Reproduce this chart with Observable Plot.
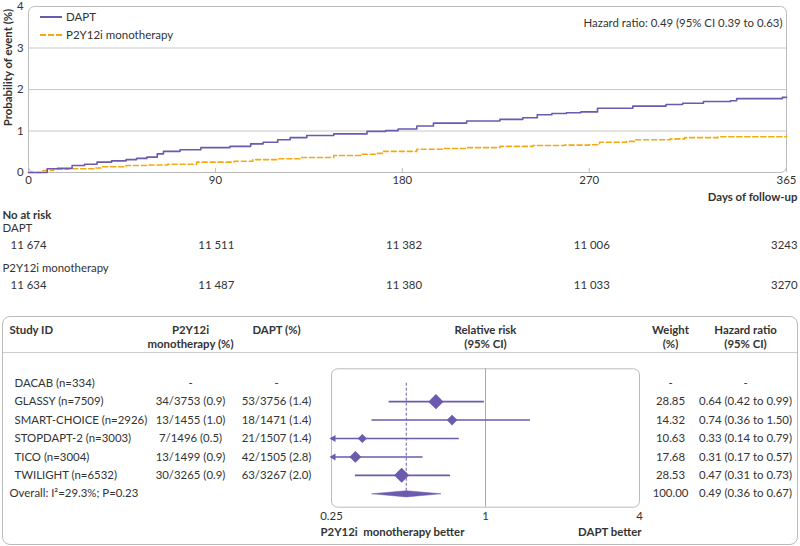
<!DOCTYPE html>
<html><head><meta charset="utf-8">
<script src="https://cdn.jsdelivr.net/npm/d3@7"></script>
<script src="https://cdn.jsdelivr.net/npm/@observablehq/plot@0.6"></script>
<style>
body{margin:0;background:#fff;font-family:Lato,"Noto Sans",sans-serif;color:#333}
#root{position:relative;width:800px;height:546px;overflow:hidden;background:#fff}
.abs{position:absolute;left:0}
#km{top:0}
#risk{top:205px}
#forest{top:317px}
#forestBox{position:absolute;left:2px;top:316px;width:796px;height:229px;border:1px solid #bbb;border-radius:8px;box-sizing:border-box}
#hdrLine{position:absolute;left:3px;top:352px;width:794px;border-top:1px solid #ccc}
#legend{position:absolute;left:40px;top:8px;font-size:11.5px;line-height:18px}
#legend .row{display:flex;align-items:center;height:18px}
#legend .sw{width:22px;height:0;margin-right:4px}
</style></head>
<body><div id="root">
<div id="forestBox"></div><div id="hdrLine"></div>
<div id="km" class="abs"></div>
<div id="legend"></div>
<div id="risk" class="abs"></div>
<div id="forest" class="abs"></div>
</div>
<script>
// ---------- data ----------
const seriesNames = ["DAPT", "P2Y12i monotherapy"];
const xTicks = [0, 90, 180, 270, 365];
const yTicks = [0, 1, 2, 3, 4];
const daptDays = [0, 9, 14, 21, 27, 33, 40, 47, 52, 57, 62, 65, 73, 83, 97, 107, 113, 120, 126, 134, 147, 163, 172, 178, 187, 195, 211, 227, 238, 245, 252, 259, 266, 274, 291, 307, 315, 325, 338, 341, 363, 365];
const daptPct  = [0, 0.09, 0.10, 0.17, 0.20, 0.25, 0.28, 0.31, 0.34, 0.37, 0.45, 0.51, 0.55, 0.60, 0.63, 0.69, 0.73, 0.79, 0.84, 0.89, 0.93, 0.99, 1.01, 1.05, 1.12, 1.19, 1.24, 1.28, 1.32, 1.39, 1.42, 1.44, 1.46, 1.55, 1.60, 1.64, 1.67, 1.71, 1.73, 1.78, 1.81, 1.81];
const monoDays = [0, 7, 12, 19, 32, 35, 47, 57, 67, 81, 99, 108, 120, 131, 147, 160, 168, 171, 187, 200, 211, 227, 243, 258, 270, 275, 288, 292, 309, 316, 332, 365];
const monoPct  = [0, 0.05, 0.08, 0.09, 0.11, 0.14, 0.17, 0.18, 0.20, 0.25, 0.27, 0.31, 0.33, 0.36, 0.41, 0.44, 0.46, 0.51, 0.56, 0.58, 0.60, 0.63, 0.65, 0.66, 0.67, 0.73, 0.75, 0.79, 0.81, 0.84, 0.86, 0.87];
const hazardText = "Hazard ratio: 0.49 (95% CI 0.39 to 0.63)";
const yLabel = "Probability of event (%)";
const xLabel = "Days of follow-up";

const riskHeader = "No at risk";
const riskDapt = [11674, 11511, 11382, 11006, 3243];
const riskMono = [11634, 11487, 11380, 11033, 3270];

const studies = ["DACAB (n=334)", "GLASSY (n=7509)", "SMART-CHOICE (n=2926)", "STOPDAPT-2 (n=3003)", "TICO (n=3004)", "TWILIGHT (n=6532)"];
const monoEvents = ["-", "34/3753 (0.9)", "13/1455 (1.0)", "7/1496 (0.5)", "13/1499 (0.9)", "30/3265 (0.9)"];
const daptEvents = ["-", "53/3756 (1.4)", "18/1471 (1.4)", "21/1507 (1.4)", "42/1505 (2.8)", "63/3267 (2.0)"];
const weights = [null, 28.85, 14.32, 10.63, 17.68, 28.53];
const hrs = [null, 0.64, 0.74, 0.33, 0.31, 0.47];
const los = [null, 0.42, 0.36, 0.14, 0.17, 0.31];
const his = [null, 0.99, 1.50, 0.79, 0.57, 0.73];
const overallLabel = "Overall: I\u00b2=29.3%; P=0.23";
const overallWeight = 100.00, overallHr = 0.49, overallLo = 0.36, overallHi = 0.67;
const rrTicks = [0.25, 1, 4];
const headers = ["Study ID", "P2Y12i\nmonotherapy (%)", "DAPT (%)", "Relative risk\n(95% CI)", "Weight\n(%)", "Hazard ratio\n(95% CI)"];
const betterLeft = "P2Y12i\u00a0 monotherapy better";
const betterRight = "DAPT better";

// ---------- style ----------
const PURPLE = "#6b5aae";
const ORANGE = "#f6a80c";
const FONT = "Lato, 'Noto Sans', sans-serif";
const TXT = "#333";
const baseStyle = {fontFamily: FONT, fontSize: "11.4px", color: TXT, background: "transparent", overflow: "visible"};

// ---------- KM chart ----------
const dapt = daptDays.map((d, i) => ({day: d, pct: daptPct[i]}));
const mono = monoDays.map((d, i) => ({day: d, pct: monoPct[i]}));
const km = Plot.plot({
  width: 800, height: 205, marginTop: 6, marginBottom: 33, marginLeft: 28, marginRight: 14,
  style: baseStyle,
  x: {domain: [xTicks[0], xTicks[xTicks.length - 1]]},
  y: {domain: [yTicks[0], yTicks[yTicks.length - 1]]},
  marks: [
    Plot.gridY(yTicks.slice(1, -1), {stroke: "#c8c8c8", strokeOpacity: 1}),
    Plot.frame({stroke: "#bbb", rx: 6}),
    Plot.ruleX(xTicks, {y1: 0, y2: 0.1, stroke: "#bbb"}),
    Plot.axisX({ticks: xTicks, tickSize: 0, tickPadding: 3, tickFormat: d => String(d), label: null}),
    Plot.axisY({ticks: yTicks, tickSize: 0, tickPadding: 5, tickFormat: d => String(d), label: null}),
    Plot.line(mono, {x: "day", y: "pct", curve: "step-after", stroke: ORANGE, strokeWidth: 1.6, strokeDasharray: "5,3"}),
    Plot.line(dapt, {x: "day", y: "pct", curve: "step-after", stroke: PURPLE, strokeWidth: 1.6}),
    Plot.text([hazardText], {text: d => d, frameAnchor: "top-right", textAnchor: "end", lineAnchor: "middle", dx: -4, dy: 17}),
    Plot.text([yLabel], {text: d => d, frameAnchor: "left", textAnchor: "middle", lineAnchor: "middle", rotate: -90, dx: -20, dy: -22, fontWeight: "bold"}),
    Plot.text([xLabel], {text: d => d, frameAnchor: "bottom-right", textAnchor: "end", lineAnchor: "middle", dx: 11, dy: 25, fontWeight: "bold"})
  ]
});
document.getElementById("km").append(km);

// legend
const leg = document.getElementById("legend");
[[seriesNames[0], `2px solid ${PURPLE}`], [seriesNames[1], `2px dashed ${ORANGE}`]].forEach(([n, b]) => {
  const r = document.createElement("div"); r.className = "row";
  const s = document.createElement("div"); s.className = "sw"; s.style.borderTop = b;
  const t = document.createElement("span"); t.textContent = n;
  r.append(s, t); leg.append(r);
});

// ---------- at risk ----------
const fmtN = n => n >= 10000 ? d3.format(",")(n).replace(",", " ") : String(n);
const riskRows = [riskDapt, riskMono].flatMap((arr, s) => arr.map((v, c) => ({s, c, v})));
const risk = Plot.plot({
  width: 800, height: 100, marginTop: 40, marginBottom: 20, marginLeft: 46, marginRight: 3,
  style: baseStyle,
  x: {domain: [0, riskDapt.length - 1], axis: null},
  y: {domain: [0, seriesNames.length - 1], reverse: true, axis: null},
  marks: [
    Plot.text([riskHeader], {text: d => d, frameAnchor: "top-left", textAnchor: "start", lineAnchor: "middle", dx: -44, dy: -30, fontWeight: "bold"}),
    Plot.text(seriesNames, {y: (d, i) => i, text: d => d, frameAnchor: "left", textAnchor: "start", lineAnchor: "middle", dx: -44, dy: -17}),
    Plot.text(riskRows, {x: "c", y: "s", text: d => fmtN(d.v), textAnchor: "end"})
  ]
});
document.getElementById("risk").append(risk);

// ---------- forest ----------
const rows = studies.map((s, i) => ({i, name: s, mono: monoEvents[i], dapt: daptEvents[i], w: weights[i], hr: hrs[i], lo: los[i], hi: his[i]}));
const oi = studies.length;
const overall = {i: oi, name: overallLabel, mono: "", dapt: "", w: overallWeight, hr: overallHr, lo: overallLo, hi: overallHi};
const all = [...rows, overall];
const est = rows.filter(d => d.hr != null);
const xmin = rrTicks[0];
const fmtW = d => d.w == null ? "-" : d.w.toFixed(2);
const fmtHR = d => d.hr == null ? "-" : `${d.hr.toFixed(2)} (${d.lo.toFixed(2)} to ${d.hi.toFixed(2)})`;
const dh = 0.17;
const diamond = [
  {x: overall.lo, y: oi}, {x: overall.hr, y: oi - dh}, {x: overall.hi, y: oi}, {x: overall.hr, y: oi + dh}, {x: overall.lo, y: oi}
];
const col = (data, text, dx, anchor, extra = {}) => Plot.text(data, {y: "i", text, frameAnchor: "left", lineAnchor: "middle", dx, textAnchor: anchor, ...extra});
const hdr = (h, dx, anchor) => Plot.text([h], {text: d => d, frameAnchor: "top-left", dx, dy: -44.6, textAnchor: anchor, lineAnchor: "top", lineHeight: 1.22, fontWeight: "bold"});

const forest = Plot.plot({
  width: 800, height: 228, marginTop: 51.3, marginBottom: 38.3, marginLeft: 331, marginRight: 161,
  style: baseStyle,
  x: {type: "log", domain: [rrTicks[0], rrTicks[rrTicks.length - 1]]},
  y: {domain: [0, oi], range: [65.7, 176.3], axis: null},
  r: {range: [0, 6.8]},
  marks: [
    Plot.frame({stroke: "#bbb", rx: 6}),
    Plot.ruleX([1], {stroke: "#aaa"}),
    Plot.ruleX([overall.hr], {y1: 0, y2: oi, stroke: PURPLE, strokeWidth: 1, strokeDasharray: "3,2"}),
    Plot.ruleY(est, {y: "i", x1: d => Math.max(d.lo, xmin), x2: "hi", stroke: PURPLE, strokeWidth: 1.6}),
    Plot.dot(est.filter(d => d.lo < xmin), {x: () => xmin, y: "i", symbol: "triangle", rotate: -90, r: 2.6, dx: 2, fill: PURPLE, stroke: "none"}),
    Plot.dot(est, {x: "hr", y: "i", r: "w", symbol: "diamond2", fill: PURPLE, stroke: "none"}),
    Plot.line(diamond, {x: "x", y: "y", fill: PURPLE, stroke: PURPLE, strokeWidth: 0.5}),
    Plot.axisX({ticks: rrTicks, tickSize: 0, tickPadding: 5, tickFormat: d => String(d), label: null}),
    Plot.text([betterLeft], {text: d => d, frameAnchor: "bottom-left", textAnchor: "start", lineAnchor: "middle", dx: -11, dy: 25, fontWeight: "bold"}),
    Plot.text([betterRight], {text: d => d, frameAnchor: "bottom-right", textAnchor: "end", lineAnchor: "middle", dx: 2, dy: 25, fontWeight: "bold"}),
    // table columns
    col(rows, "name", -317, "start"),
    col([overall], "name", -322, "start"),
    col(rows, "mono", -141, "middle"),
    col(rows, "dapt", -55, "middle"),
    col(all, fmtW, 339, "middle"),
    col(all, fmtHR, 414, "middle"),
    // headers
    hdr(headers[0], -322, "start"),
    hdr(headers[1], -141, "middle"),
    hdr(headers[2], -55, "middle"),
    hdr(headers[3], 154, "middle"),
    hdr(headers[4], 339, "middle"),
    hdr(headers[5], 414, "middle")
  ]
});
document.getElementById("forest").append(forest);
</script>
</body></html>
